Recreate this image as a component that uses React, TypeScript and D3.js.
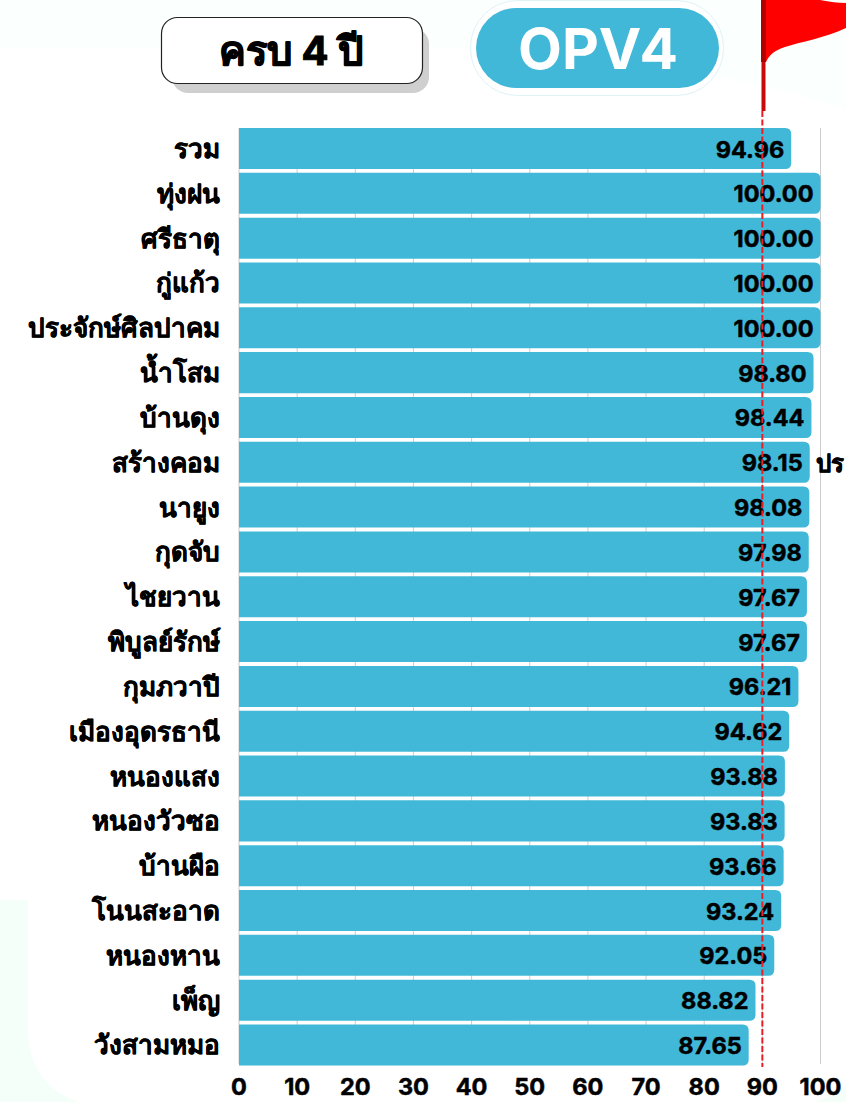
import React from "react";
import * as d3 from "d3";

const categories = ["รวม","ทุ่งฝน","ศรีธาตุ","กู่แก้ว","ประจักษ์ศิลปาคม","น้ำโสม","บ้านดุง","สร้างคอม","นายูง","กุดจับ","ไชยวาน","พิบูลย์รักษ์","กุมภวาปี","เมืองอุดรธานี","หนองแสง","หนองวัวซอ","บ้านผือ","โนนสะอาด","หนองหาน","เพ็ญ","วังสามหมอ"];
const values = [94.96,100,100,100,100,98.8,98.44,98.15,98.08,97.98,97.67,97.67,96.21,94.62,93.88,93.83,93.66,93.24,92.05,88.82,87.65];
const ticks = [0,10,20,30,40,50,60,70,80,90,100];
const target = 90;
const FONT = "Inter, 'Noto Sans', 'Noto Sans CJK SC', 'DejaVu Sans', sans-serif";
const BLUE = "#41b8d8";
const round = { strokeLinejoin: "round" as const, stroke: "#000", strokeWidth: 0.5 };

export default function App() {
  const x = d3.scaleLinear().domain([0, 100]).range([239, 820.5]);
  const y = d3.scaleBand().domain(categories).range([128, 1065.5]).paddingInner(0.085).paddingOuter(0);
  const bw = y.bandwidth();
  return (
    <svg width={846} height={1102} style={{ position: "fixed", left: 0, top: 0, background: "#fff" }}>
      <rect x={0} y={0} width={846} height={48} fill="#fbfffe" />
      <path d="M560,48 C680,70 780,85 846,110 V48 Z" fill="#fbfffe" />
      <path d="M0,900 H28 V1030 C28,1065 45,1090 78,1102 H0 Z" fill="#f4fffa" />
      <path d="M815,1102 C828,1098 838,1092 846,1084 V1102 Z" fill="#f4fffa" />

      <rect x={172} y={28} width={257} height={65} rx={16} fill="#cfcfcf" />
      <rect x={161.5} y={17.5} width={261} height={66} rx={16} fill="#fff" stroke="#222" strokeWidth={1.2} />
      <text x={291} y={65} textAnchor="middle" fontFamily={FONT} fontWeight={700} fontSize={40} fill="#000" {...round} strokeWidth={1}>ครบ 4 ปี</text>
      <rect x={470.5} y={0.5} width={253} height={95} rx={47} fill="#fff" stroke="#dff2f6" />
      <rect x={476} y={8} width={243} height={80} rx={40} fill={BLUE} />
      <text x={598} y={69} textAnchor="middle" fontFamily={FONT} fontWeight={700} fontSize={57} fill="#fff">OPV4</text>
      <path d="M766,0 H820 C830,2 838,3 846,3 V28 C825,38 800,42 785,47 C775,50 769,55 766,62 Z" fill="#fe0000" />
      <rect x={761} y={0} width={5} height={62} fill="#b00000" />
      <rect x={761.5} y={62} width={4} height={49} fill="#c80a0a" />

      {ticks.map((t) => (
        <line key={t} x1={x(t)} x2={x(t)} y1={128} y2={1064} stroke="#cccccc" strokeWidth={1} />
      ))}
      {categories.map((c, i) => {
        const x0 = x(0), x1 = x(values[i]), y0 = y(c)!, r = 6;
        return (
          <g key={c}>
            <path d={`M${x0},${y0} H${x1 - r} Q${x1},${y0} ${x1},${y0 + r} V${y0 + bw - r} Q${x1},${y0 + bw} ${x1 - r},${y0 + bw} H${x0} Z`} fill={BLUE} />
            <text x={220} y={y0 + bw / 2 + 9.5} textAnchor="end" fontFamily={FONT} fontWeight={600} fontSize={26} fill="#000" {...round}>{c}</text>
            <text x={x1 - 7} y={y0 + bw / 2 + 9} textAnchor="end" fontFamily={FONT} fontWeight={700} fontSize={23.5} fill="#000" {...round}>{values[i].toFixed(2)}</text>
          </g>
        );
      })}
      <line x1={x(target)} x2={x(target)} y1={111} y2={1067} stroke="#ee1c25" strokeWidth={2} strokeDasharray="6 2.5" />
      <text x={816} y={472} fontFamily={FONT} fontWeight={700} fontSize={24} fill="#000" {...round}>ปร</text>
      {ticks.map((t) => (
        <text key={t} x={x(t)} y={1095} textAnchor="middle" fontFamily={FONT} fontWeight={700} fontSize={23.5} fill="#000" {...round}>{t}</text>
      ))}
    </svg>
  );
}
